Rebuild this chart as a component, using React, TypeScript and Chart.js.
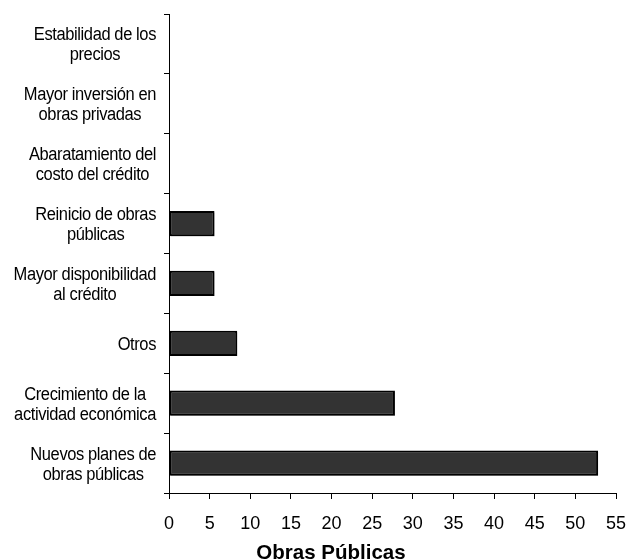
import React, { useEffect, useRef } from 'react';
import { Chart, registerables } from 'chart.js';

Chart.register(...registerables);

const categories: string[][] = [
  ['Estabilidad de los', 'precios'],
  ['Mayor inversión en', 'obras privadas'],
  ['Abaratamiento del', 'costo del crédito'],
  ['Reinicio de obras', 'públicas'],
  ['Mayor disponibilidad', 'al crédito'],
  ['Otros'],
  ['Crecimiento de la', 'actividad económica'],
  ['Nuevos planes de', 'obras públicas'],
];
const values: number[] = [0, 0, 0, 5.6, 5.6, 8.4, 27.8, 52.8];
const xMin = 0;
const xMax = 55;
const xStep = 5;
const axisTitle = 'Obras Públicas';

const FONT = '"Liberation Sans", Arial, sans-serif';

const labelPlugin = {
  id: 'catLabels',
  afterDraw(chart: any) {
    const ctx = chart.ctx as CanvasRenderingContext2D;
    const y = chart.scales.y;
    const x = chart.scales.x;
    const sy = 1.1;
    ctx.save();
    ctx.fillStyle = '#000';
    ctx.font = `16.5px ${FONT}`;
    (ctx as any).letterSpacing = '-0.4px';
    ctx.textAlign = 'center';
    ctx.textBaseline = 'middle';
    const right = y.right - 13;
    const lh = 20;
    categories.forEach((lines, i) => {
      const cy = y.getPixelForValue(i) + 1.5;
      const w = Math.max(...lines.map((l) => ctx.measureText(l).width));
      const cx = right - w / 2;
      const startY = cy - ((lines.length - 1) * lh) / 2;
      lines.forEach((l, j) => {
        const ly = startY + j * lh;
        ctx.save();
        ctx.translate(cx, ly);
        ctx.scale(1, sy);
        ctx.fillText(l, 0, 0);
        ctx.restore();
      });
    });
    ctx.font = `bold 20.5px ${FONT}`;
    (ctx as any).letterSpacing = '0px';
    ctx.textBaseline = 'alphabetic';
    ctx.fillText(axisTitle, 331, x.bottom - 1);
    ctx.restore();
  },
};

const shadowPlugin = {
  id: 'barShadow',
  beforeDatasetsDraw(chart: any) {
    const ctx = chart.ctx as CanvasRenderingContext2D;
    ctx.save();
    ctx.shadowColor = 'rgba(0,0,0,0.3)';
    ctx.shadowOffsetX = 1.5;
    ctx.shadowOffsetY = 1.5;
    ctx.shadowBlur = 0;
  },
  afterDatasetsDraw(chart: any) {
    chart.ctx.restore();
  },
};

export default function App() {
  const ref = useRef<HTMLCanvasElement>(null);
  useEffect(() => {
    if (!ref.current) return;
    const chart = new Chart(ref.current, {
      type: 'bar',
      data: {
        labels: categories,
        datasets: [
          {
            data: values,
            backgroundColor: '#333333',
            borderColor: '#000000',
            borderWidth: 2,
            borderSkipped: false,
            barPercentage: 0.42,
            categoryPercentage: 1,
          },
        ],
      },
      options: {
        indexAxis: 'y',
        animation: false,
        responsive: false,
        devicePixelRatio: 1,
        layout: { padding: { top: 14, right: 11, left: 0, bottom: 0 } },
        plugins: { legend: { display: false }, tooltip: { enabled: false }, title: { display: false } },
        scales: {
          x: {
            type: 'linear',
            min: xMin,
            max: xMax,
            ticks: {
              stepSize: xStep,
              color: '#000',
              font: { family: FONT, size: 18 },
              padding: 14,
            },
            grid: { drawOnChartArea: false, drawTicks: true, tickLength: 6, color: '#000', lineWidth: 1 },
            border: { display: true, color: '#000', width: 1 },
            afterFit(scale: any) {
              scale.height = 67;
              scale.paddingLeft = 0;
              scale.paddingRight = 0;
            },
          },
          y: {
            type: 'category',
            ticks: { display: false },
            grid: { drawOnChartArea: false, drawTicks: true, tickLength: 5, color: '#000', lineWidth: 1, offset: true },
            border: { display: true, color: '#000', width: 1 },
            afterFit(scale: any) {
              scale.width = 169;
            },
          },
        },
      },
      plugins: [shadowPlugin, labelPlugin],
    });
    return () => chart.destroy();
  }, []);
  return (
    <div style={{ position: 'absolute', left: 0, top: 0, width: 627, height: 560, background: '#fff' }}>
      <canvas ref={ref} width={627} height={560} style={{ display: 'block' }} />
    </div>
  );
}
